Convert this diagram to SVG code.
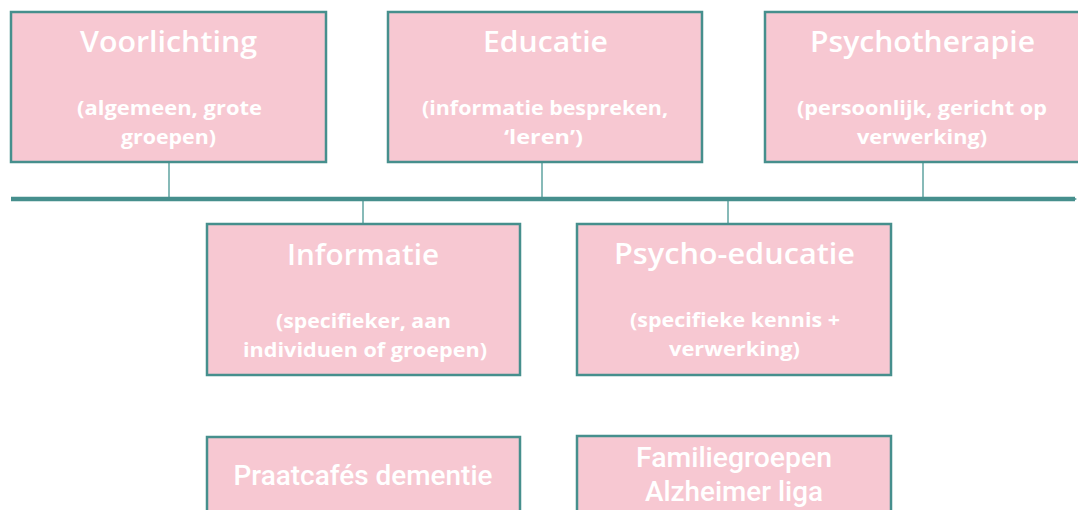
<svg xmlns="http://www.w3.org/2000/svg" width="1078" height="510" viewBox="0 0 1078 510">
<style>
.box{fill:#f7c8d2;stroke:#468f8d;stroke-width:2.5}
.t{fill:#fff;font-family:"Open Sans","Noto Sans",sans-serif;font-weight:600;font-size:28px;text-anchor:middle}
.s{fill:#fff;font-family:"Open Sans","Noto Sans",sans-serif;font-weight:700;font-size:19px;text-anchor:middle}
.b{fill:#fff;font-family:"Roboto","Noto Sans",sans-serif;font-weight:500;font-size:27px;text-anchor:middle}
.c{stroke:#5fa3a1;stroke-width:1.5;fill:none}
</style>
<defs>
<marker id="arr" markerWidth="4" markerHeight="4" refX="2" refY="2" orient="auto" markerUnits="userSpaceOnUse"><path d="M0,0 L4,2 L0,4 z" fill="#468f8d"/></marker>
</defs>
<rect width="1078" height="510" fill="#fff"/>
<g id="connectors">
<line class="c" x1="169" y1="162" x2="169" y2="199"/>
<line class="c" x1="542" y1="162" x2="542" y2="199"/>
<line class="c" x1="923" y1="162" x2="923" y2="199"/>
<line class="c" x1="363" y1="199" x2="363" y2="224"/>
<line class="c" x1="728" y1="199" x2="728" y2="224"/>
<line x1="11" y1="199" x2="1075" y2="199" stroke="#468f8d" stroke-width="4.5" marker-end="url(#arr)"/>
</g>
<g id="voorlichting">
<rect class="box" x="11" y="12" width="315" height="150"/>
<text class="t" x="168.5" y="52" textLength="177" lengthAdjust="spacingAndGlyphs">Voorlichting</text>
<text class="s" x="169.5" y="115" textLength="185" lengthAdjust="spacingAndGlyphs">(algemeen, grote</text>
<text class="s" x="168.5" y="144" textLength="95" lengthAdjust="spacingAndGlyphs">groepen)</text>
</g>
<g id="educatie">
<rect class="box" x="388" y="12" width="314" height="150"/>
<text class="t" x="545.5" y="52" textLength="125" lengthAdjust="spacingAndGlyphs">Educatie</text>
<text class="s" x="545" y="115" textLength="246" lengthAdjust="spacingAndGlyphs">(informatie bespreken,</text>
<text class="s" x="543.5" y="144" textLength="79" lengthAdjust="spacingAndGlyphs">‘leren’)</text>
</g>
<g id="psychotherapie">
<rect class="box" x="765" y="12" width="325" height="150"/>
<text class="t" x="922.5" y="52" textLength="225" lengthAdjust="spacingAndGlyphs">Psychotherapie</text>
<text class="s" x="922" y="115" textLength="250" lengthAdjust="spacingAndGlyphs">(persoonlijk, gericht op</text>
<text class="s" x="922" y="144" textLength="130" lengthAdjust="spacingAndGlyphs">verwerking)</text>
</g>
<g id="informatie">
<rect class="box" x="207" y="224" width="313" height="151"/>
<text class="t" x="363" y="265" textLength="152" lengthAdjust="spacingAndGlyphs">Informatie</text>
<text class="s" x="363.5" y="328" textLength="175" lengthAdjust="spacingAndGlyphs">(specifieker, aan</text>
<text class="s" x="365" y="357" textLength="244" lengthAdjust="spacingAndGlyphs">individuen of groepen)</text>
</g>
<g id="psycho-educatie">
<rect class="box" x="577" y="224" width="314" height="151"/>
<text class="t" x="734.5" y="264" textLength="241" lengthAdjust="spacingAndGlyphs">Psycho-educatie</text>
<text class="s" x="735" y="327" textLength="210" lengthAdjust="spacingAndGlyphs">(specifieke kennis +</text>
<text class="s" x="734.5" y="356" textLength="131" lengthAdjust="spacingAndGlyphs">verwerking)</text>
</g>
<g id="praatcafes">
<rect class="box" x="207" y="437" width="313" height="90"/>
<text class="b" x="363" y="485" textLength="259" lengthAdjust="spacingAndGlyphs">Praatcafés dementie</text>
</g>
<g id="familiegroepen">
<rect class="box" x="577" y="436" width="314" height="90"/>
<text class="b" x="734" y="467" textLength="196" lengthAdjust="spacingAndGlyphs">Familiegroepen</text>
<text class="b" x="734" y="501" textLength="178" lengthAdjust="spacingAndGlyphs">Alzheimer liga</text>
</g>
</svg>
